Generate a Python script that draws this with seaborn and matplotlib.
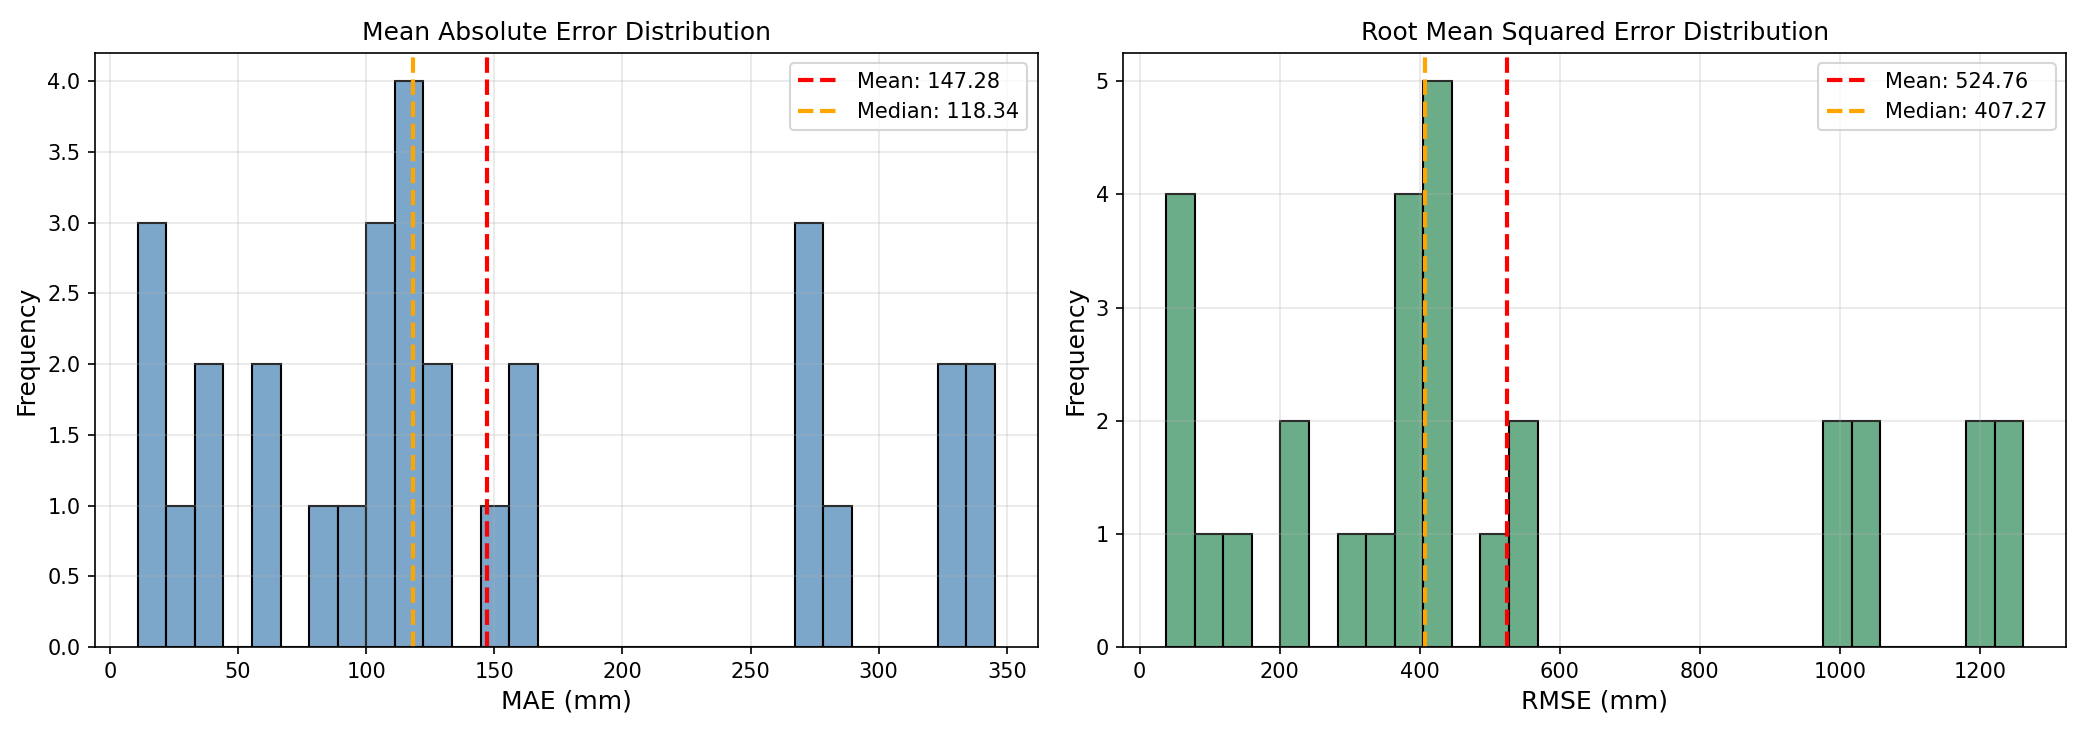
import numpy as np
import matplotlib
matplotlib.use("Agg")
import matplotlib.pyplot as plt
import seaborn as sns

# per-sample errors (mm)
mae_values = [10.9, 15.2, 19.8, 27.5, 36.4, 41.0, 58.3, 63.1, 84.2, 95.6,
              102.7, 106.9, 110.3, 114.8, 117.1, 119.58, 121.5, 125.9, 130.4,
              148.6, 158.7, 163.9, 269.5, 273.8, 277.2, 284.1, 326.8, 330.0,
              339.4, 345.3]

rmse_values = [38.0, 52.4, 63.7, 74.1, 97.5, 141.2, 212.8, 230.5, 301.4, 347.9,
               371.3, 385.6, 394.2, 402.8, 406.1, 408.44, 417.6, 429.3, 440.8,
               503.5, 538.9, 556.2, 988.6, 1005.3, 1029.7, 1040.96, 1182.0,
               1196.0, 1224.0, 1262.0]

fig, axes = plt.subplots(1, 2, figsize=(13.88, 4.86), dpi=150)
fig.subplots_adjust(left=0.0456, right=0.9923, bottom=0.1125, top=0.9273, wspace=0.091)

panels = [
    (axes[0], mae_values, "steelblue", "MAE (mm)", "Mean Absolute Error Distribution"),
    (axes[1], rmse_values, "seagreen", "RMSE (mm)", "Root Mean Squared Error Distribution"),
]

for ax, vals, col, xlab, title in panels:
    sns.histplot(x=vals, bins=30, color=col, alpha=0.7, edgecolor="black", ax=ax)
    m = np.mean(vals)
    med = np.median(vals)
    ax.axvline(m, color="red", linestyle="--", linewidth=2, label=f"Mean: {m:.2f}")
    ax.axvline(med, color="orange", linestyle="--", linewidth=2, label=f"Median: {med:.2f}")
    ax.set_xlabel(xlab, fontsize=12)
    ax.set_ylabel("Frequency", fontsize=12)
    ax.set_title(title, fontsize=12)
    ax.legend(loc="upper right")
    ax.grid(True, alpha=0.3)

plt.savefig("out.png", dpi=150)
